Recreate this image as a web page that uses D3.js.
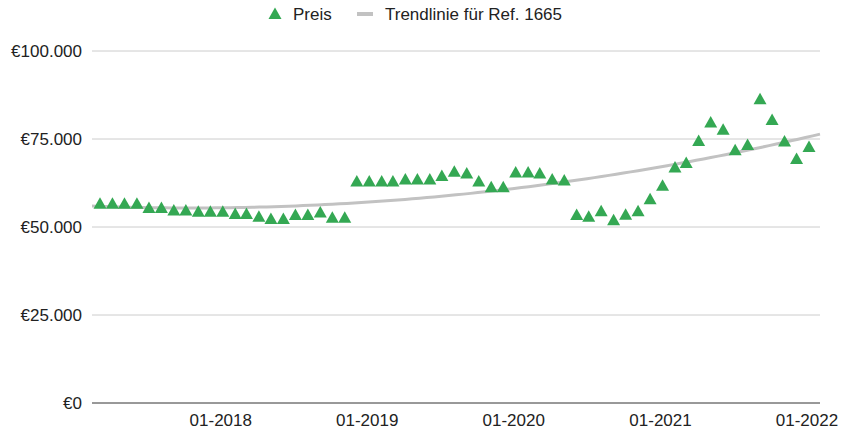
<!DOCTYPE html>
<html>
<head>
<meta charset="utf-8">
<script src="https://cdn.jsdelivr.net/npm/d3@7"></script>
<style>
  html, body { margin: 0; padding: 0; background: #fff; }
  svg { display: block; font-family: Arial, "Liberation Sans", sans-serif; }
</style>
</head>
<body>
<svg id="chart" width="842" height="432"></svg>
<script>
// ---- data ----
const startMonth = "2017-03";   // first observation
const prices = [
  56600, 56600, 56600, 56600, 55400, 55400, 54700, 54700, 54300, 54300,
  54300, 53700, 53700, 52900, 52300, 52300, 53400, 53400, 54100, 52600,
  52600, 62900, 62900, 62900, 62900, 63500, 63500, 63500, 64500, 65700,
  65200, 62900, 61300, 61300, 65500, 65500, 65200, 63500, 63200, 53400,
  52900, 54500, 51900, 53500, 54500, 57900, 61700, 66900, 68200, 74400,
  79700, 77600, 71800, 73300, 86300, 80400, 74300, 69300, 72700
];
const yTicks = [0, 25000, 50000, 75000, 100000];
const xTickLabels = ["01-2018", "01-2019", "01-2020", "01-2021", "01-2022"];
const legendLabels = ["Preis", "Trendlinie für Ref. 1665"];
const trendDegree = 2;

// ---- build rows ----
const parseMonth = d3.timeParse("%Y-%m");
const parseTick = d3.timeParse("%m-%Y");
const t0 = parseMonth(startMonth);
const rows = prices.map((v, i) => ({ date: d3.timeMonth.offset(t0, i), value: v }));

const svg = d3.select("#chart");
const W = 842, H = 432;
const plot = { left: 92, right: 820, top: 51, bottom: 403 };

const x = d3.scaleTime()
  .domain(d3.extent(rows, d => d.date))
  .range([100, 809]);
const y = d3.scaleLinear()
  .domain([0, 100000])
  .range([plot.bottom, plot.top]);

const fmt = v => "€" + d3.format(",")(v).replace(/,/g, ".");

// gridlines
svg.append("g").selectAll("line").data(yTicks.filter(v => v !== 0)).join("line")
  .attr("x1", plot.left).attr("x2", plot.right)
  .attr("y1", d => y(d)).attr("y2", d => y(d))
  .attr("stroke", "#cccccc").attr("stroke-width", 1);

// y labels
svg.append("g").selectAll("text").data(yTicks).join("text")
  .attr("x", 82).attr("y", d => y(d))
  .attr("dy", "0.35em")
  .attr("text-anchor", "end")
  .attr("font-size", 17)
  .attr("fill", "#222")
  .text(fmt);

// x labels
svg.append("g").selectAll("text").data(xTickLabels).join("text")
  .attr("x", d => x(parseTick(d)) - 2)
  .attr("y", 426)
  .attr("text-anchor", "middle")
  .attr("font-size", 17)
  .attr("fill", "#222")
  .text(d => d);

// ---- trendline (least squares polynomial) ----
const tMs = rows.map(r => +r.date);
const tMin = d3.min(tMs), tSpan = d3.max(tMs) - tMin;
const norm = t => (t - tMin) / tSpan;
function polyFit(xs, ys, deg) {
  const n = deg + 1;
  const A = Array.from({ length: n }, () => new Array(n + 1).fill(0));
  xs.forEach((xv, k) => {
    for (let i = 0; i < n; i++) {
      for (let j = 0; j < n; j++) A[i][j] += Math.pow(xv, i + j);
      A[i][n] += ys[k] * Math.pow(xv, i);
    }
  });
  for (let i = 0; i < n; i++) {
    let p = i;
    for (let r = i + 1; r < n; r++) if (Math.abs(A[r][i]) > Math.abs(A[p][i])) p = r;
    [A[i], A[p]] = [A[p], A[i]];
    for (let r = 0; r < n; r++) {
      if (r === i) continue;
      const f = A[r][i] / A[i][i];
      for (let c = i; c <= n; c++) A[r][c] -= f * A[i][c];
    }
  }
  return A.map((row, i) => row[n] / row[i]);
}
const coef = polyFit(tMs.map(norm), prices, trendDegree);
const evalPoly = u => coef.reduce((s, c, i) => s + c * Math.pow(u, i), 0);
const dLeft = x.invert(plot.left), dRight = x.invert(plot.right);
const trendPts = d3.range(0, 101).map(k => {
  const t = +dLeft + (dRight - dLeft) * k / 100;
  return { date: new Date(t), value: evalPoly(norm(t)) };
});
svg.append("path")
  .datum(trendPts)
  .attr("fill", "none")
  .attr("stroke", "#c2c2c2")
  .attr("stroke-width", 3)
  .attr("d", d3.line().x(d => x(d.date)).y(d => y(d.value)));

// baseline
svg.append("line")
  .attr("x1", plot.left).attr("x2", plot.right)
  .attr("y1", y(0)).attr("y2", y(0))
  .attr("stroke", "#333").attr("stroke-width", 1);

// triangles
const triPath = (cx, cy) => {
  const p = d3.path();
  p.moveTo(cx, cy - 6.5); p.lineTo(cx + 6.5, cy + 5); p.lineTo(cx - 6.5, cy + 5); p.closePath();
  return p.toString();
};
svg.append("g").selectAll("path").data(rows).join("path")
  .attr("d", d => triPath(x(d.date), y(d.value)))
  .attr("fill", "#34a853");

// legend
const lg = svg.append("g");
lg.append("path").attr("d", triPath(275, 14)).attr("fill", "#34a853");
lg.append("text").attr("x", 293).attr("y", 14).attr("dy", "0.35em")
  .attr("font-size", 17).attr("fill", "#222").text(legendLabels[0]);
lg.append("line").attr("x1", 357).attr("x2", 373).attr("y1", 14).attr("y2", 14)
  .attr("stroke", "#c2c2c2").attr("stroke-width", 4);
lg.append("text").attr("x", 385).attr("y", 14).attr("dy", "0.35em")
  .attr("font-size", 17).attr("fill", "#222").text(legendLabels[1]);
</script>
</body>
</html>
